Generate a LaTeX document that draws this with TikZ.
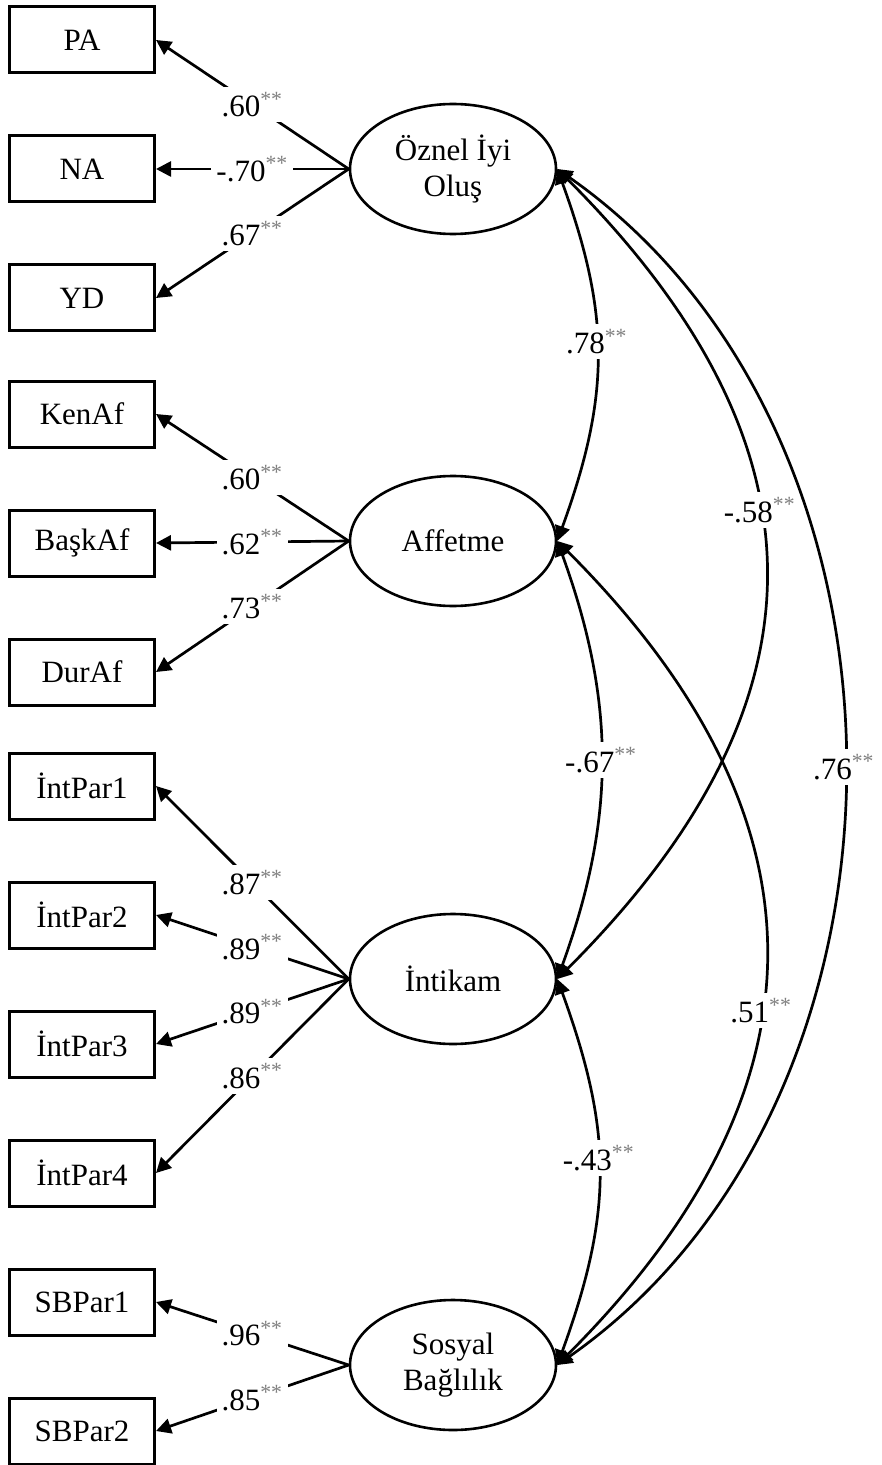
\documentclass[tikz,border=0pt]{standalone}
\usepackage{fontspec}
\setmainfont{Liberation Serif}
\usepackage{xcolor}
\usetikzlibrary{arrows.meta,shapes.geometric}
\usetikzlibrary{positioning}

\newcommand{\st}{\textsuperscript{\color{gray}**}}

\begin{document}
\begin{tikzpicture}[x=0.5pt,y=-0.5pt,>={Triangle[length=7.5pt,width=7.5pt]},node distance=64.5pt,font=\fontsize{15.5}{18}\selectfont]
	\tikzstyle{obs}=[draw, line width=1.5pt, minimum width=72.5pt, minimum height=33pt, inner sep=0pt]
	\tikzstyle{lat}=[draw, ellipse, line width=1.3pt, minimum width=103pt, minimum height=65pt, inner sep=0pt, align=center]
	\tikzstyle{coef}=[fill=white, inner sep=2.5pt]
	\tikzstyle{load}=[->, line width=1.35pt]
	\tikzstyle{cov}=[<->, line width=1.35pt]
	\useasboundingbox (0,0) rectangle (882,1465);
	% latent variables
	\node[lat] (oz)  at (453,169)  {Öznel İyi\\Oluş};
	\node[lat] (af)  at (453,541)  {Affetme};
	\node[lat] (int) at (453,979)  {İntikam};
	\node[lat] (sb)  at (453,1365) {Sosyal\\Bağlılık};
	% indicators
	\node[obs] (pa)   at (82,40)          {PA};
	\node[obs] (na)   [below of=pa]       {NA};
	\node[obs] (yd)   [below of=na]       {YD};
	\node[obs] (ken)  at (82,414)         {KenAf};
	\node[obs] (bask) [below of=ken]      {BaşkAf};
	\node[obs] (dur)  [below of=bask]     {DurAf};
	\node[obs] (ip1)  at (82,786)         {İntPar1};
	\node[obs] (ip2)  [below of=ip1]      {İntPar2};
	\node[obs] (ip3)  [below of=ip2]      {İntPar3};
	\node[obs] (ip4)  [below of=ip3]      {İntPar4};
	\node[obs] (sb1)  at (82,1302)        {SBPar1};
	\node[obs] (sb2)  [below of=sb1]      {SBPar2};
	\path[load]
		(oz.west) edge node[coef] {.60\st} (pa.east)
		(oz.west) edge node[coef] {-.70\st} (na.east)
		(oz.west) edge node[coef] {.67\st} (yd.east)
		(af.west) edge node[coef] {.60\st} (ken.east)
		(af.west) edge node[coef] {.62\st} (bask.east)
		(af.west) edge node[coef] {.73\st} (dur.east)
		(int.west) edge node[coef] {.87\st} (ip1.east)
		(int.west) edge node[coef] {.89\st} (ip2.east)
		(int.west) edge node[coef] {.89\st} (ip3.east)
		(int.west) edge node[coef] {.86\st} (ip4.east)
		(sb.west) edge node[coef] {.96\st} (sb1.east)
		(sb.west) edge node[coef] {.85\st} (sb2.east);
	% covariances
	\path[cov]
		(oz.east) edge[out=-70,in=70,looseness=1.07] node[coef,pos=.46] {.78\st} (af.east)
		(af.east) edge[out=-70,in=70] node[coef] {-.67\st} (int.east)
		(int.east) edge[out=-70,in=70,looseness=1.08] node[coef,pos=.46] {-.43\st} (sb.east)
		(oz.east) edge[out=-45,in=45,looseness=1.24] node[coef,pos=.42] {-.58\st} (int.east)
		(af.east) edge[out=-45,in=45,looseness=1.22] node[coef,pos=.57] {.51\st} (sb.east)
		(oz.east) edge[out=-35,in=35] node[coef] {.76\st} (sb.east);
\end{tikzpicture}
\end{document}
